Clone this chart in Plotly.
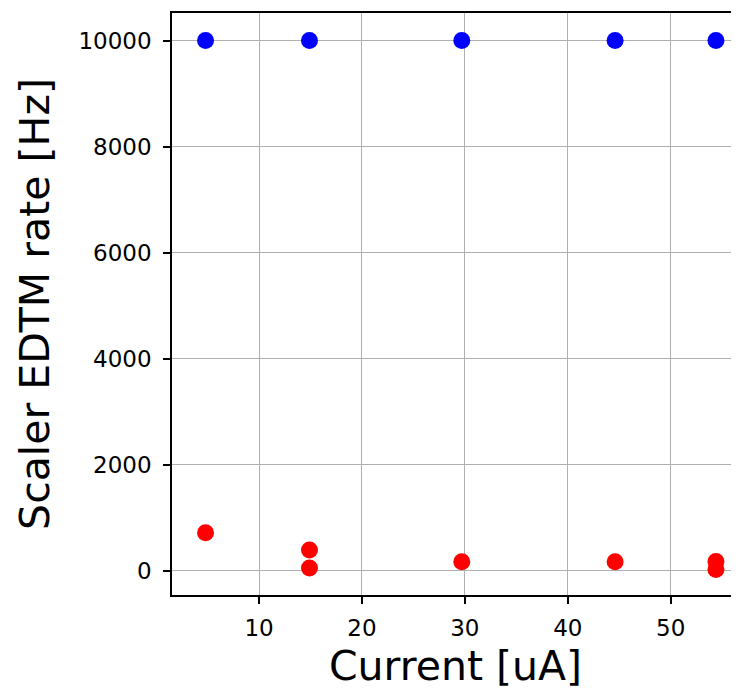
import plotly.graph_objects as go

# Data
blue_x = [4.8, 14.9, 29.7, 44.6, 54.4]
blue_y = [10000, 10000, 10000, 10000, 10000]
red_x = [4.8, 14.9, 14.9, 29.7, 44.6, 54.4, 54.4]
red_y = [720, 395, 55, 170, 170, 175, 25]

xticks = [10, 20, 30, 40, 50]
yticks = [0, 2000, 4000, 6000, 8000, 10000]
yticklabels = ["0", "2000", "4000", "6000", "8000", "10000"]

fig = go.Figure()
fig.add_trace(go.Scatter(x=blue_x, y=blue_y, mode="markers",
                         marker=dict(color="#0000ff", size=17, line=dict(width=0)),
                         showlegend=False))
fig.add_trace(go.Scatter(x=red_x, y=red_y, mode="markers",
                         marker=dict(color="#ff0000", size=17, line=dict(width=0)),
                         showlegend=False))

axis_common = dict(showgrid=True, gridcolor="#b0b0b0", gridwidth=1,
                   showline=True, linecolor="black", linewidth=1.5,
                   ticks="outside", ticklen=7, tickwidth=1.5, tickcolor="black",
                   zeroline=False, automargin=False,
                   tickfont=dict(family="DejaVu Sans", size=23, color="black"))

fig.update_layout(
    width=731, height=682,
    margin=dict(l=164, r=0, t=5, b=95),
    paper_bgcolor="white", plot_bgcolor="white",
    xaxis=dict(range=[1.54, 56.64], tickvals=xticks, ticklabelstandoff=5, mirror=True,
               title=dict(text="Current [uA]", font=dict(family="DejaVu Sans", size=41, color="black"), standoff=11),
               **axis_common),
    yaxis=dict(range=[-455, 10520], tickvals=yticks, ticktext=yticklabels, ticklabelstandoff=7, mirror=False,
               title=dict(text="Scaler EDTM rate [Hz]", font=dict(family="DejaVu Sans", size=41, color="black"), standoff=16),
               **axis_common),
)

fig.write_html("out.html")
